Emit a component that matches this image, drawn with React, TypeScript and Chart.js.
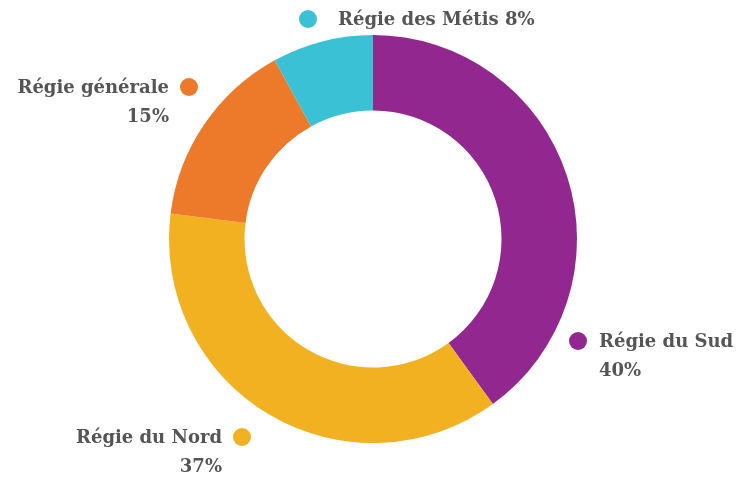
import React, { useEffect, useRef } from "react";
import { Chart, registerables } from "chart.js";

Chart.register(...registerables);

const categories = ["Régie du Sud", "Régie du Nord", "Régie générale", "Régie des Métis"];
const shares = [40, 37, 15, 8];
const colors = ["#92278F", "#F1B121", "#EC7A2A", "#3BC1D6"];

// label layout relative to the doughnut centre (px): dot position, text side, two-line or one-line
const labelLayout = [
  { dx: 205, dy: 102, side: "right", oneLine: false },
  { dx: -131, dy: 198, side: "left", oneLine: false },
  { dx: -184, dy: -152, side: "left", oneLine: false },
  { dx: -65, dy: -220, side: "right", oneLine: true },
];

const labelPlugin = {
  id: "outerLabels",
  afterDraw(chart: any) {
    const meta = chart.getDatasetMeta(0);
    const arc = meta.data[0];
    const cx = arc.x;
    const cy = arc.y;
    const ctx = chart.ctx;
    ctx.save();
    ctx.font = "bold 18px 'DejaVu Serif'";
    ctx.textBaseline = "middle";
    categories.forEach((name, i) => {
      const l = labelLayout[i];
      const x = cx + l.dx;
      const y = cy + l.dy;
      ctx.beginPath();
      ctx.arc(x, y, 9, 0, Math.PI * 2);
      ctx.fillStyle = colors[i];
      ctx.fill();
      ctx.fillStyle = "#555555";
      const pct = shares[i] + "%";
      if (l.side === "right") {
        ctx.textAlign = "left";
        const tx = x + 21;
        if (l.oneLine) {
          ctx.fillText(name + " " + pct, tx + 9, y + 1);
        } else {
          ctx.fillText(name, tx, y + 1);
          ctx.fillText(pct, tx, y + 30);
        }
      } else {
        ctx.textAlign = "right";
        const tx = x - 20;
        ctx.fillText(name, tx, y + 1);
        ctx.fillText(pct, tx, y + 30);
      }
    });
    ctx.restore();
  },
};

export default function App() {
  const ref = useRef<HTMLCanvasElement>(null);
  useEffect(() => {
    if (!ref.current) return;
    const chart = new Chart(ref.current, {
      type: "doughnut",
      data: {
        labels: categories,
        datasets: [
          {
            data: shares,
            backgroundColor: colors,
            borderWidth: 0,
          },
        ],
      },
      options: {
        animation: false,
        responsive: false,
        cutout: "63%",
        layout: { padding: { top: 35, bottom: 36, left: 0, right: 6 } },
        plugins: {
          legend: { display: false },
          tooltip: { enabled: false },
        },
      },
      plugins: [labelPlugin],
    });
    return () => chart.destroy();
  }, []);
  return (
    <div style={{ position: "fixed", left: 0, top: 0, width: 752, height: 479, background: "#fff" }}>
      <canvas ref={ref} width={752} height={479} style={{ width: 752, height: 479, display: "block" }} />
    </div>
  );
}
